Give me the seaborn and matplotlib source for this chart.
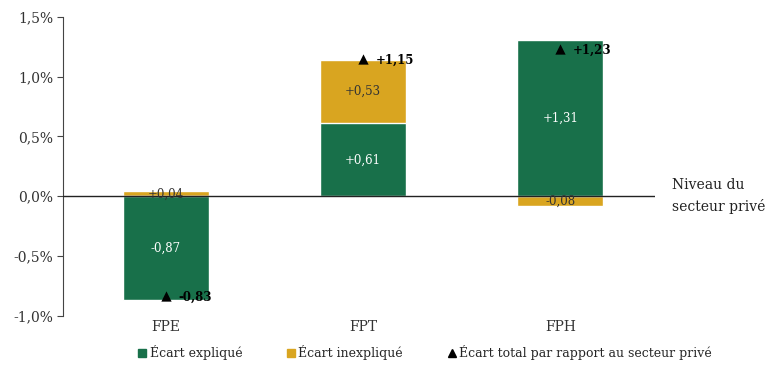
import numpy as np
import pandas as pd
import matplotlib
matplotlib.use("Agg")
import matplotlib.pyplot as plt
from matplotlib.ticker import FuncFormatter
from matplotlib.lines import Line2D
import seaborn as sns

categories = ["FPE", "FPT", "FPH"]
explained = [-0.87, 0.61, 1.31]
unexplained = [0.04, 0.53, -0.08]
total = [-0.83, 1.15, 1.23]
yticks = [-1.0, -0.5, 0.0, 0.5, 1.0, 1.5]

GREEN = "#18704a"
GOLD = "#d9a520"
DARK = "#333333"

sns.set_style("white")
plt.rcParams['font.family'] = ['DejaVu Serif', 'Liberation Serif']

fig = plt.figure(figsize=(7.68, 3.76), dpi=100)
ax = fig.add_axes([0.082, 0.160, 0.771, 0.795])

# gold segment top: stacked on explained if same sign, else from 0
gold_top = [e + u if np.sign(e) == np.sign(u) else u for e, u in zip(explained, unexplained)]
df_gold = pd.DataFrame({"cat": categories, "val": gold_top})
df_green = pd.DataFrame({"cat": categories, "val": explained})
df_tot = pd.DataFrame({"cat": categories, "val": total})

sns.barplot(data=df_gold, x="cat", y="val", color=GOLD, width=0.435, ax=ax,
            saturation=1, errorbar=None, zorder=2)
sns.barplot(data=df_green, x="cat", y="val", color=GREEN, width=0.435, ax=ax,
            saturation=1, errorbar=None, zorder=3)
sns.scatterplot(data=df_tot, x="cat", y="val", marker="^", color="black", s=55,
                ax=ax, zorder=6, linewidth=0)

ax.axhline(0, color="#222222", lw=1.0, zorder=5)

fmt = lambda v: ("+" if v > 0 else "") + f"{v:.2f}".replace(".", ",")

for i, (e, u, g, t) in enumerate(zip(explained, unexplained, gold_top, total)):
    ax.text(i, e / 2, fmt(e), ha="center", va="center", color="white", fontsize=8.5, zorder=7)
    if abs(u) < 0.2:
        ax.text(i, u / 2, fmt(u), ha="center", va="center", color=DARK, fontsize=8.5, zorder=7)
    else:
        ax.text(i, g - u / 2, fmt(u), ha="center", va="center", color=DARK, fontsize=8.5, zorder=7)
    ax.annotate(fmt(t), (i, t), xytext=(9, -1), textcoords="offset points",
                ha="left", va="center", fontsize=8.5, fontweight="bold", color="black", zorder=7)

ax.set_xlim(-0.52, 2.48)
ax.set_ylim(-1.0, 1.5)
ax.set_yticks(yticks)
ax.yaxis.set_major_formatter(FuncFormatter(lambda v, p: f"{v:.1f}".replace(".", ",") + "%"))
ax.tick_params(axis="y", length=4, width=0.8, color="#444444", labelsize=10, pad=3, left=True)
ax.tick_params(axis="x", length=0, labelsize=10, pad=3)
ax.set_xlabel("")
ax.set_ylabel("")
for s in ["top", "right", "bottom"]:
    ax.spines[s].set_visible(False)
ax.spines["left"].set_color("#444444")
ax.spines["left"].set_linewidth(0.8)
for lbl in ax.get_xticklabels() + ax.get_yticklabels():
    lbl.set_color("#333333")

fig.text(0.875, 0.478, "Niveau du\nsecteur privé", ha="left", va="center",
         fontsize=10, color="#222222", linespacing=1.55)

handles = [
    Line2D([], [], marker="s", color=GREEN, linestyle="none", markersize=6),
    Line2D([], [], marker="s", color=GOLD, linestyle="none", markersize=6),
    Line2D([], [], marker="^", color="black", linestyle="none", markersize=6),
]
labels = ["Écart expliqué", "Écart inexpliqué", "Écart total par rapport au secteur privé"]
fig.legend(handles, labels, loc="center", bbox_to_anchor=(0.552, 0.062), ncol=3,
           frameon=False, fontsize=9, handletextpad=0.1, columnspacing=3.4, handlelength=1.0)

fig.savefig("out.png", dpi=100)
